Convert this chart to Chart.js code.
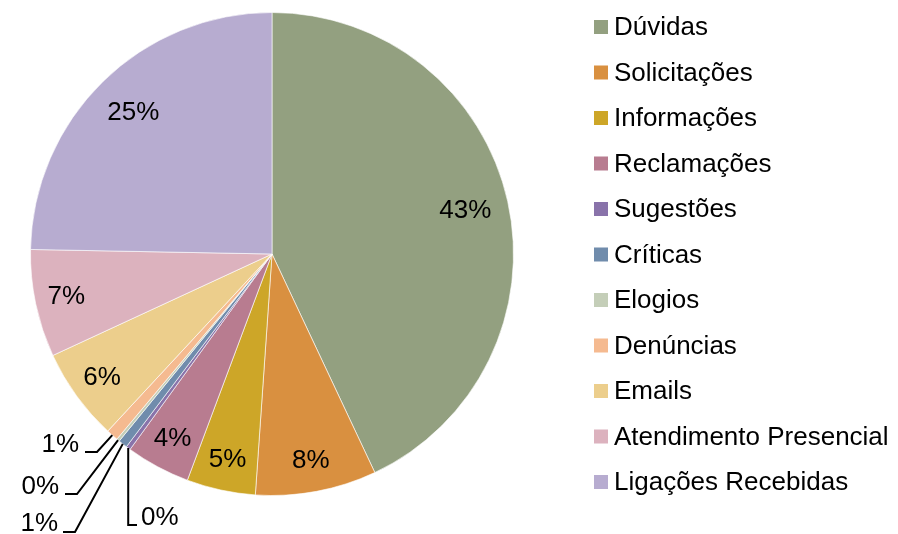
<!DOCTYPE html>
<html>
<head>
<meta charset="utf-8">
<script src="https://cdn.jsdelivr.net/npm/chart.js@4.4.1/dist/chart.umd.min.js"></script>
<style>
  body { margin: 0; background: #fff; }
  #box { width: 898px; height: 534px; }
</style>
</head>
<body>
<div id="box"><canvas id="pieChart" width="898" height="534"></canvas></div>
<script>
// categories and shares (percent)
const categories = ['Dúvidas', 'Solicitações', 'Informações', 'Reclamações', 'Sugestões', 'Críticas',
  'Elogios', 'Denúncias', 'Emails', 'Atendimento Presencial', 'Ligações Recebidas'];
const shares = [43.0, 8.1, 4.6, 4.3, 0.3, 0.6, 0.2, 0.8, 6.2, 7.2, 24.7];
const sliceColors = ['#93a080', '#d99040', '#cda628', '#b87c90', '#8973aa', '#708cac',
  '#c4ceb8', '#f5ba90', '#ecce8c', '#dcb2be', '#b7acd0'];

const FONT = '26px "Liberation Sans", Arial, sans-serif';

// leader line labels for the tiny slices (label placement only)
const leaders = {
  'Sugestões': { elbow: 'down', elbowY: 525, end: [137, 525], text: [141, 518], align: 'left' },
  'Críticas': { end: [63, 532], elbowPt: [75, 532], text: [58, 524], align: 'right' },
  'Elogios': { end: [65, 494], elbowPt: [77, 494], text: [59, 487], align: 'right' },
  'Denúncias': { end: [85, 452], elbowPt: [97, 452], text: [79, 445], align: 'right' }
};

// draws percentage labels + leader lines
const pctLabels = {
  id: 'pctLabels',
  afterDatasetsDraw(chart) {
    const ctx = chart.ctx;
    const meta = chart.getDatasetMeta(0);
    const total = shares.reduce((a, b) => a + b, 0);
    ctx.save();
    ctx.font = FONT;
    ctx.fillStyle = '#000';
    ctx.textBaseline = 'middle';
    meta.data.forEach((arc, i) => {
      const p = arc.getProps(['x', 'y', 'startAngle', 'endAngle', 'outerRadius'], true);
      const mid = (p.startAngle + p.endAngle) / 2;
      const txt = Math.round(shares[i] / total * 100) + '%';
      const ld = leaders[categories[i]];
      if (ld) {
        const ax = p.x + p.outerRadius * Math.cos(mid);
        const ay = p.y + p.outerRadius * Math.sin(mid);
        ctx.beginPath();
        ctx.strokeStyle = '#000';
        ctx.lineWidth = 2;
        ctx.moveTo(ax, ay);
        if (ld.elbow === 'down') {
          ctx.lineTo(ax, ld.elbowY);
        } else {
          ctx.lineTo(ld.elbowPt[0], ld.elbowPt[1]);
        }
        ctx.lineTo(ld.end[0], ld.end[1]);
        ctx.stroke();
        ctx.textAlign = ld.align;
        ctx.fillText(txt, ld.text[0], ld.text[1]);
      } else {
        const f = shares[i] / total > 0.2 ? 0.82 : 0.87;
        ctx.textAlign = 'center';
        ctx.fillText(txt, p.x + p.outerRadius * f * Math.cos(mid), p.y + p.outerRadius * f * Math.sin(mid));
      }
    });
    ctx.restore();
  }
};

// legend on the right, one row per category
const sideLegend = {
  id: 'sideLegend',
  afterDraw(chart) {
    const ctx = chart.ctx;
    ctx.save();
    ctx.font = FONT;
    ctx.textAlign = 'left';
    ctx.textBaseline = 'middle';
    categories.forEach((c, i) => {
      const y = 27 + i * 45.5;
      ctx.fillStyle = sliceColors[i];
      ctx.fillRect(594, y - 7, 14, 14);
      ctx.fillStyle = '#000';
      ctx.fillText(c, 614, y + 1);
    });
    ctx.restore();
  }
};

const chart = new Chart(document.getElementById('pieChart'), {
  type: 'pie',
  data: {
    labels: categories,
    datasets: [{
      data: shares,
      backgroundColor: sliceColors,
      borderColor: 'rgba(255,255,255,0.6)',
      borderWidth: 1
    }]
  },
  options: {
    responsive: false,
    animation: false,
    devicePixelRatio: 1,
    layout: { padding: { top: 12, bottom: 38, left: 30, right: 384 } },
    plugins: {
      legend: { display: false },
      tooltip: { enabled: false }
    }
  },
  plugins: [pctLabels, sideLegend]
});
</script>
</body>
</html>
